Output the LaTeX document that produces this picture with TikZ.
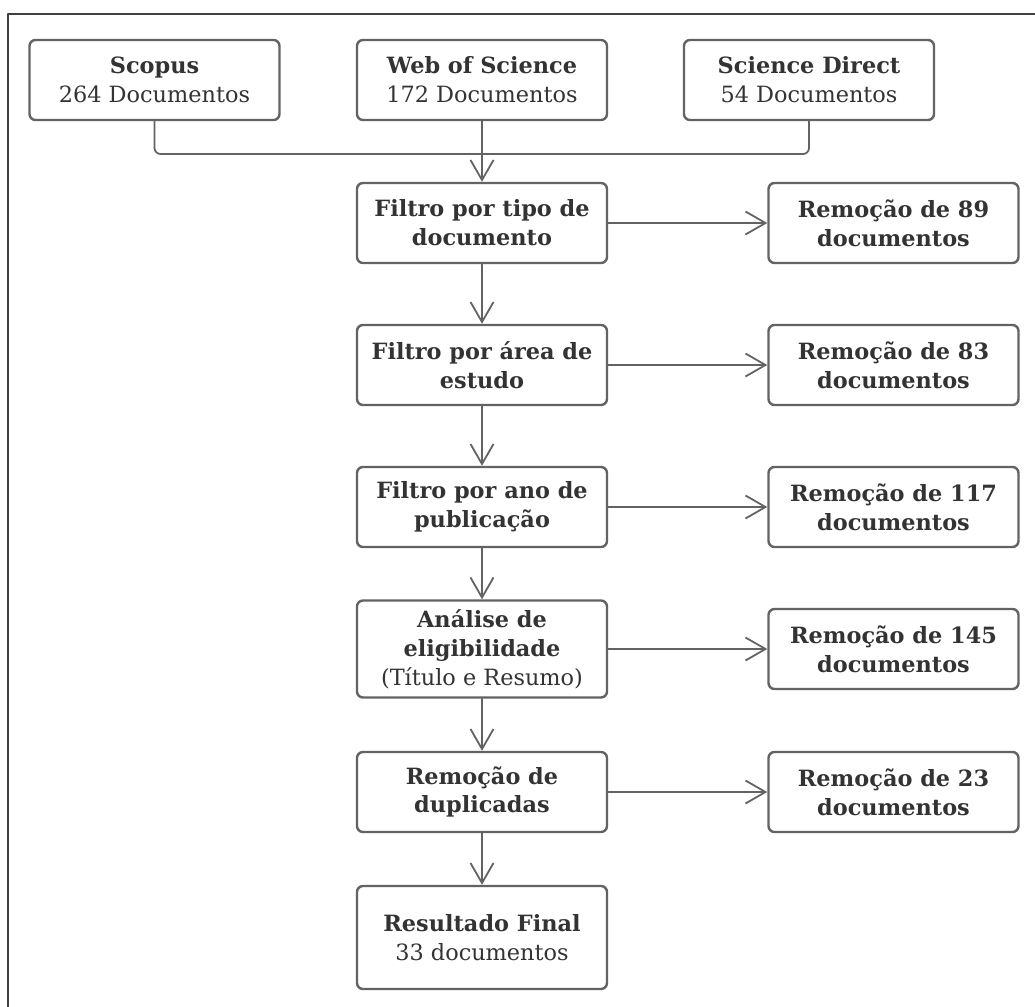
\documentclass[tikz,border=0pt]{standalone}
\usepackage{fontspec}
\setmainfont{DejaVu Serif}
\usetikzlibrary{arrows.meta}

\definecolor{linegray}{HTML}{636363}
\definecolor{textgray}{HTML}{333333}

\begin{document}
\begin{tikzpicture}[x=0.5pt, y=-0.5pt, line cap=round, line join=round,
    box/.style={draw=linegray, line width=1.2pt, rounded corners=3pt, fill=white,
        text=textgray, align=center, minimum width=125pt, minimum height=40pt,
        inner sep=2pt, font=\fontsize{11.2}{14.4}\selectfont},
    stage/.style={box, font=\fontsize{11.2}{14.4}\selectfont\bfseries},
    link/.style={draw=linegray, line width=0.9pt},
    arrowlink/.style={link, -{Straight Barb[length=10pt, width=11.5pt]}}]

% Frame
\useasboundingbox (0,0) rectangle (1035,1007);
\clip (0,0) rectangle (1035,1007);
\draw[line width=0.6pt, black!75] (8,14) rectangle (1040,1015);

\pgfmathsetmacro{\midx}{482}
\pgfmathsetmacro{\rightx}{893.5}

% Databases ------------------------------
\node[box] (scopus) at (154.5,80) {\textbf{Scopus}\\264 Documentos};
\node[box] (wos) at (\midx,80) {\textbf{Web of Science}\\172 Documentos};
\node[box] (sd) at (809,80) {\textbf{Science Direct}\\54 Documentos};
\coordinate (join) at (\midx,154);

% Filters ------------------------------
\node[stage] (tipo) at (\midx,223) {Filtro por tipo de\\documento};
\node[stage] (area) at (\midx,365) {Filtro por área de\\estudo};
\node[stage] (ano) at (\midx,507) {Filtro por ano de\\publicação};
\node[box, minimum height=48.5pt] (elig) at (\midx,649)
    {\textbf{Análise de}\\\textbf{eligibilidade}\\(Título e Resumo)};
\node[stage] (dupl) at (\midx,792) {Remoção de\\duplicadas};
\node[box, minimum height=51.5pt] (final) at (\midx,937.5)
    {\textbf{Resultado Final}\\33 documentos};

% Removals ------------------------------
\node[stage] (rem89) at (\rightx,223) {Remoção de 89\\documentos};
\node[stage] (rem83) at (\rightx,365) {Remoção de 83\\documentos};
\node[stage] (rem117) at (\rightx,507) {Remoção de 117\\documentos};
\node[stage] (rem145) at (\rightx,649) {Remoção de 145\\documentos};
\node[stage] (rem23) at (\rightx,792) {Remoção de 23\\documentos};

% Connectors
\draw[link, rounded corners=3pt] (scopus.south) |- (join) -| (sd.south);
\draw[arrowlink] (wos) -- (tipo);
\draw[arrowlink] (tipo) -- (area);
\draw[arrowlink] (area) -- (ano);
\draw[arrowlink] (ano) -- (elig);
\draw[arrowlink] (elig) -- (dupl);
\draw[arrowlink] (dupl) -- (final);

\draw[arrowlink] (tipo) -- (rem89);
\draw[arrowlink] (area) -- (rem83);
\draw[arrowlink] (ano) -- (rem117);
\draw[arrowlink] (elig) -- (rem145);
\draw[arrowlink] (dupl) -- (rem23);

\end{tikzpicture}
\end{document}
